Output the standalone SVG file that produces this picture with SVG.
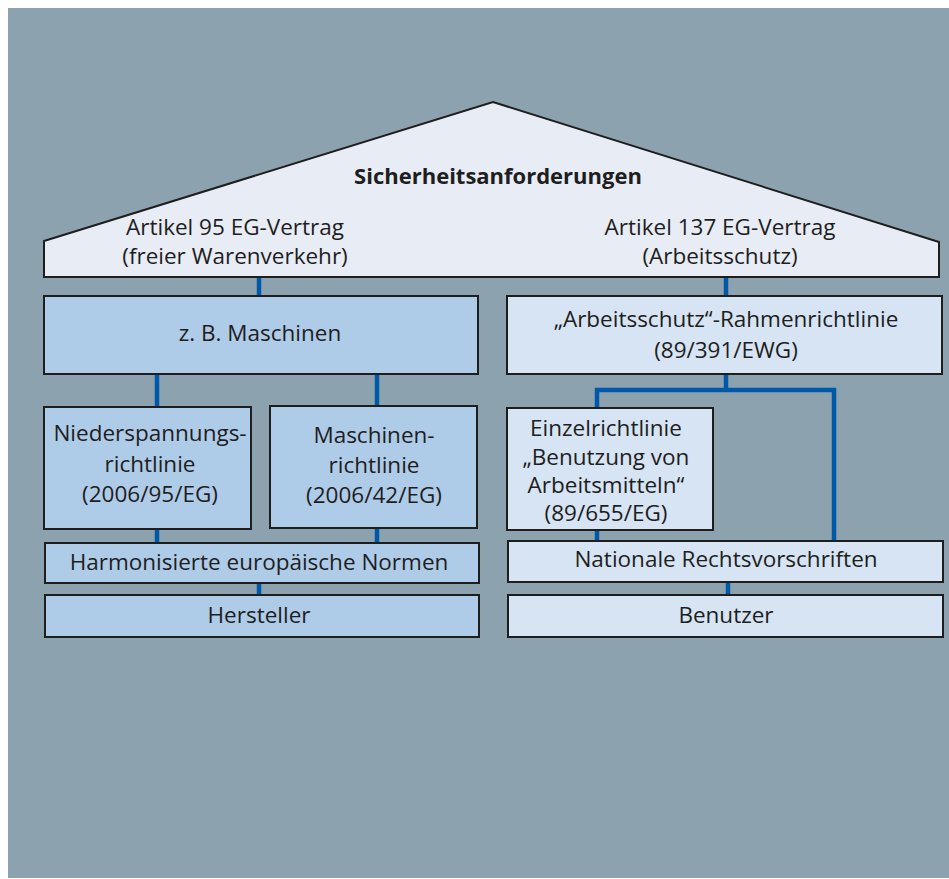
<svg xmlns="http://www.w3.org/2000/svg" width="949" height="879" viewBox="0 0 949 879">
<style>
text{font-family:"Open Sans","Noto Sans","DejaVu Sans",sans-serif;font-size:22.5px;fill:#1e1e1e;text-anchor:middle}
.t{font-weight:bold;font-size:22px}
.box{stroke:#1e1e1e;stroke-width:2}
.l{fill:#AECBE8}
.r{fill:#D6E4F3}
.c{stroke:#0058A8;stroke-width:4.5;fill:none}
</style>
<rect x="8" y="8" width="941" height="870" fill="#8CA2AF"/>
<g id="connectors">
<line class="c" x1="259" y1="276" x2="259" y2="297"/>
<line class="c" x1="726" y1="276" x2="726" y2="297"/>
<line class="c" x1="157" y1="373" x2="157" y2="408"/>
<line class="c" x1="377" y1="373" x2="377" y2="408"/>
<line class="c" x1="157" y1="528" x2="157" y2="544"/>
<line class="c" x1="377" y1="528" x2="377" y2="544"/>
<line class="c" x1="259" y1="582" x2="259" y2="596"/>
<polyline class="c" points="597,409 597,390 834,390 834,542"/>
<line class="c" x1="726" y1="373" x2="726" y2="390"/>
<line class="c" x1="597" y1="529" x2="597" y2="542"/>
<line class="c" x1="728" y1="581" x2="728" y2="596"/>
</g>
<g id="roof">
<polygon points="44,241 493,102 939,242 939,277 44,277" fill="#E8ECF5" stroke="#1e1e1e" stroke-width="2" stroke-linejoin="miter"/>
<text class="t" x="498" y="184">Sicherheitsanforderungen</text>
<text x="235" y="235">Artikel 95 EG-Vertrag</text>
<text x="235" y="264">(freier Warenverkehr)</text>
<text x="720" y="235">Artikel 137 EG-Vertrag</text>
<text x="720" y="264">(Arbeitsschutz)</text>
</g>
<g id="maschinen">
<rect class="box l" x="44" y="296" width="434" height="78"/>
<text x="260" y="341">z. B. Maschinen</text>
</g>
<g id="niederspannung">
<rect class="box l" x="44" y="407" width="207" height="122"/>
<text x="150" y="441">Niederspannungs-</text>
<text x="150" y="472">richtlinie</text>
<text x="150" y="502">(2006/95/EG)</text>
</g>
<g id="maschinenrichtlinie">
<rect class="box l" x="270" y="406" width="207" height="122"/>
<text x="374" y="443">Maschinen-</text>
<text x="374" y="473">richtlinie</text>
<text x="374" y="503">(2006/42/EG)</text>
</g>
<g id="normen">
<rect class="box l" x="45" y="543" width="434" height="40"/>
<text x="259" y="570">Harmonisierte europäische Normen</text>
</g>
<g id="hersteller">
<rect class="box l" x="45" y="595" width="434" height="42"/>
<text x="259" y="623">Hersteller</text>
</g>
<g id="rahmenrichtlinie">
<rect class="box r" x="507" y="296" width="435" height="78"/>
<text x="726" y="327">„Arbeitsschutz“-Rahmenrichtlinie</text>
<text x="726" y="358">(89/391/EWG)</text>
</g>
<g id="einzelrichtlinie">
<rect class="box r" x="507" y="408" width="206" height="122"/>
<text x="606" y="436">Einzelrichtlinie</text>
<text x="606" y="465">„Benutzung von</text>
<text x="606" y="493">Arbeitsmitteln“</text>
<text x="606" y="521">(89/655/EG)</text>
</g>
<g id="national">
<rect class="box r" x="508" y="541" width="435" height="41"/>
<text x="726" y="567">Nationale Rechtsvorschriften</text>
</g>
<g id="benutzer">
<rect class="box r" x="508" y="595" width="435" height="42"/>
<text x="726" y="623">Benutzer</text>
</g>
</svg>
